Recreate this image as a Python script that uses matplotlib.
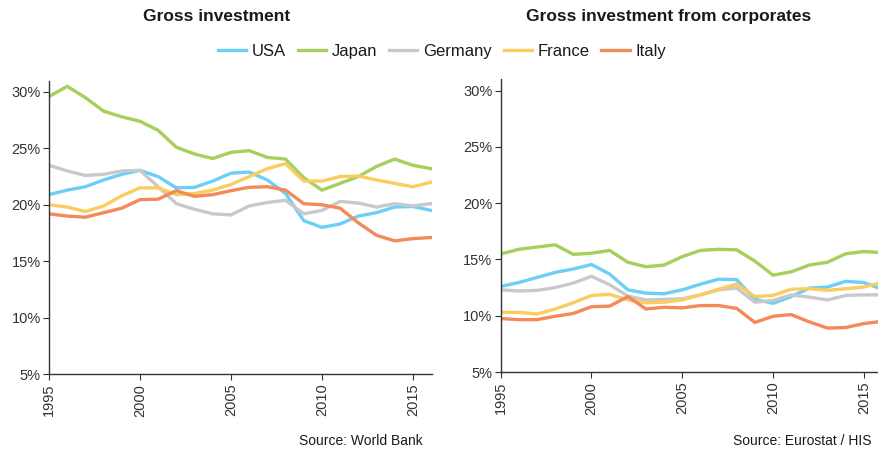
import matplotlib
matplotlib.use("Agg")
import matplotlib.pyplot as plt
from matplotlib.lines import Line2D
from matplotlib.ticker import FuncFormatter

plt.rcParams['font.family'] = ['Liberation Sans', 'DejaVu Sans']

years = list(range(1995, 2017))
countries = ["USA", "Japan", "Germany", "France", "Italy"]
colors = ["#6dcff6", "#a6cf5c", "#c9c9cd", "#f9cd5f", "#f4895a"]

# Gross investment, % of GDP (World Bank)
gross_usa = [20.9, 21.3, 21.6, 22.2, 22.7, 23.05, 22.5, 21.5, 21.55, 22.1, 22.8,
             22.9, 22.2, 21.0, 18.6, 18.0, 18.3, 19.0, 19.3, 19.8, 19.85, 19.5]
gross_japan = [29.6, 30.5, 29.5, 28.3, 27.8, 27.4, 26.6, 25.1, 24.5, 24.1, 24.65,
               24.8, 24.2, 24.05, 22.4, 21.3, 21.9, 22.5, 23.4, 24.05, 23.5, 23.2]
gross_germany = [23.5, 23.0, 22.6, 22.7, 23.0, 23.05, 21.6, 20.1, 19.6, 19.2, 19.1,
                 19.9, 20.2, 20.4, 19.2, 19.5, 20.3, 20.15, 19.8, 20.1, 19.9, 20.1]
gross_france = [20.0, 19.8, 19.4, 19.9, 20.8, 21.5, 21.5, 20.9, 21.0, 21.3, 21.8,
                22.5, 23.2, 23.65, 22.1, 22.1, 22.5, 22.55, 22.2, 21.9, 21.6, 22.0]
gross_italy = [19.2, 19.0, 18.9, 19.3, 19.7, 20.45, 20.5, 21.25, 20.75, 20.9, 21.25,
               21.55, 21.6, 21.3, 20.1, 20.0, 19.7, 18.4, 17.3, 16.8, 17.0, 17.1]

# Gross investment from corporates, % of GDP (Eurostat / HIS)
corp_usa = [12.6, 12.95, 13.4, 13.85, 14.15, 14.55, 13.7, 12.3, 12.0, 11.95, 12.3,
            12.8, 13.25, 13.2, 11.45, 11.1, 11.7, 12.45, 12.55, 13.05, 12.95, 12.35]
corp_japan = [15.48, 15.9, 16.1, 16.3, 15.45, 15.55, 15.8, 14.75, 14.35, 14.5, 15.25,
              15.8, 15.9, 15.85, 14.85, 13.6, 13.9, 14.5, 14.75, 15.5, 15.7, 15.6]
corp_germany = [12.3, 12.2, 12.25, 12.5, 12.9, 13.5, 12.75, 11.75, 11.4, 11.45, 11.5,
                11.85, 12.3, 12.45, 11.2, 11.35, 11.85, 11.65, 11.4, 11.8, 11.85, 11.85]
corp_france = [10.3, 10.3, 10.15, 10.6, 11.15, 11.8, 11.9, 11.4, 11.15, 11.2, 11.4,
               11.85, 12.35, 12.8, 11.7, 11.8, 12.35, 12.4, 12.25, 12.4, 12.55, 12.95]
corp_italy = [9.75, 9.65, 9.65, 9.95, 10.2, 10.8, 10.85, 11.7, 10.6, 10.75, 10.7,
              10.9, 10.9, 10.65, 9.4, 9.95, 10.1, 9.45, 8.9, 8.95, 9.3, 9.5]

gross = [gross_usa, gross_japan, gross_germany, gross_france, gross_italy]
corp = [corp_usa, corp_japan, corp_germany, corp_france, corp_italy]

fig = plt.figure(figsize=(8.79, 4.5), dpi=100)
ax1 = fig.add_axes([49 / 879, 1 - 374 / 450, 383 / 879, 293.3 / 450])
ax2 = fig.add_axes([500.7 / 879, 1 - 372 / 450, 382.2 / 879, 292.7 / 450])

for ax, data in [(ax1, gross), (ax2, corp)]:
    for series, c in zip(data, colors):
        ax.plot(years, series, color=c, lw=2.4, solid_joinstyle='miter')
    ax.set_xlim(1995, 2016.05)
    ax.set_ylim(5, 31)
    ax.set_xticks([1995, 2000, 2005, 2010, 2015])
    ax.set_yticks([5, 10, 15, 20, 25, 30])
    ax.yaxis.set_major_formatter(FuncFormatter(lambda v, p: f"{v:.0f}%"))
    ax.tick_params(axis='x', rotation=90, labelsize=10.5, length=4,
                   color='#333333', labelcolor='#333333', pad=3)
    ax.tick_params(axis='y', labelsize=10.5, length=4,
                   color='#333333', labelcolor='#333333', pad=2)
    for side in ['top', 'right']:
        ax.spines[side].set_visible(False)
    for side in ['left', 'bottom']:
        ax.spines[side].set_color('#333333')
        ax.spines[side].set_linewidth(1.0)

fig.text(217 / 879, 1 - 16.5 / 450, "Gross investment", ha='center', va='center',
         fontsize=12.5, fontweight='bold', color='#1a1a1a')
fig.text(669 / 879, 1 - 16.5 / 450, "Gross investment from corporates", ha='center',
         va='center', fontsize=12.5, fontweight='bold', color='#1a1a1a')

handles = [Line2D([], [], color=c, lw=2.4) for c in colors]
fig.legend(handles, countries, loc='center', bbox_to_anchor=(442 / 879, 1 - 51.5 / 450),
           ncol=5, frameon=False, fontsize=12, handlelength=1.7, handletextpad=0.35,
           columnspacing=0.7, labelcolor='#1a1a1a')

fig.text(423 / 879, 1 - 441 / 450, "Source: World Bank", ha='right', va='center',
         fontsize=10, color='#1a1a1a')
fig.text(872 / 879, 1 - 441 / 450, "Source: Eurostat / HIS", ha='right', va='center',
         fontsize=10, color='#1a1a1a')

fig.savefig("out.png", dpi=100)
